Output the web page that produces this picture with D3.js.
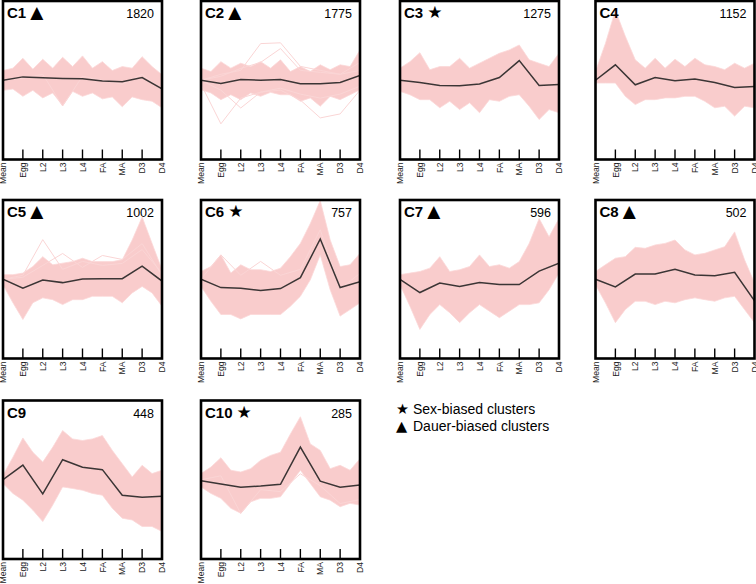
<!DOCTYPE html>
<html><head><meta charset="utf-8">
<script src="https://cdn.jsdelivr.net/npm/d3@7"></script>
<style>body{margin:0;background:#fff} svg{display:block}</style>
</head><body>
<svg id="chart" width="756" height="584"></svg>
<script>
// ---------------- data ----------------
const stages = ["Mean","Egg","L2","L3","L4","FA","MA","D3","D4"];
const clusterNames = ["C1","C2","C3","C4","C5","C6","C7","C8","C9","C10"];
const clusterSizes = [1820,1775,1275,1152,1002,757,596,502,448,285];
const clusterBias = ["dauer","dauer","sex","none","dauer","sex","dauer","dauer","none","sex"];

// mean expression profile of each cluster (dark line)
const meanProfiles = [
  [0, 0.17, 0.12, 0.09, 0.07, -0.04, -0.07, 0.14, -0.44],
  [0, -0.16, 0.04, 0.0, 0.04, -0.18, -0.18, -0.11, 0.24],
  [0, -0.11, -0.26, -0.28, -0.19, 0.14, 0.99, -0.26, -0.21],
  [0, 0.78, -0.23, 0.14, -0.03, 0.06, -0.11, -0.36, -0.31],
  [0, -0.45, -0.04, -0.17, 0.01, 0.02, 0.03, 0.66, -0.09],
  [0, -0.42, -0.46, -0.57, -0.47, 0.08, 2.03, -0.42, -0.12],
  [0, -0.67, -0.19, -0.36, -0.16, -0.27, -0.27, 0.41, 0.81],
  [0, -0.39, 0.26, 0.26, 0.50, 0.21, 0.18, 0.35, -1.09],
  [0, 0.74, -0.71, 1.01, 0.63, 0.51, -0.78, -0.88, -0.83],
  [-0.05, -0.22, -0.38, -0.32, -0.23, 1.65, -0.07, -0.38, -0.27]
];
// upper envelope of member genes at each stage
const upperAtStage = [
  [0.49, 1.11, 1.06, 1.16, 1.23, 0.94, 0.69, 1.19, 0.28],
  [0.61, 0.94, 0.86, 0.94, 1.03, 0.69, 0.78, 0.78, 1.53],
  [0.61, 1.39, 0.69, 1.11, 0.86, 1.36, 1.78, 0.86, 1.36],
  [0.44, 3.53, 1.03, 1.11, 1.06, 1.11, 0.69, 0.86, 0.86],
  [0.23, 0.31, 1.14, 0.81, 1.06, 0.89, 0.98, 3.14, 0.48],
  [0.39, 1.23, 0.73, 0.48, 0.56, 1.81, 3.97, 0.64, 1.31],
  [0.23, 0.39, 1.14, 0.48, 1.23, 0.73, 0.89, 3.06, 3.06],
  [0.39, 1.06, 1.61, 1.73, 1.98, 1.23, 1.48, 2.39, -0.19],
  [0.23, 2.11, 0.89, 2.48, 1.98, 2.23, 0.81, 0.73, 0.48],
  [0.31, 1.11, 0.39, 0.98, 1.39, 3.18, 1.48, 0.73, 1.06]
];
// upper envelope half-way between consecutive stages
const upperBetween = [
  [0.61, 0.56, 0.61, 0.69, 0.61, 0.49, 0.61, 0.69],
  [0.44, 0.61, 0.69, 0.61, 0.44, 0.44, 0.53, 0.69],
  [0.94, 0.53, 0.69, 0.61, 1.11, 1.53, 1.03, 0.69],
  [1.86, 2.22, 0.61, 0.61, 0.69, 0.78, 0.53, 0.61],
  [0.23, 0.64, 0.73, 0.89, 0.89, 0.89, 1.98, 1.81],
  [0.64, 0.31, 0.48, 0.39, 1.14, 2.81, 1.98, 0.73],
  [0.31, 0.56, 0.39, 0.64, 0.64, 0.56, 1.81, 2.14],
  [0.73, 1.14, 1.56, 1.81, 1.48, 1.31, 1.64, 0.98],
  [1.14, 1.39, 1.64, 2.06, 2.06, 1.48, 0.14, 0.31],
  [0.64, 0.48, 0.56, 1.23, 2.31, 1.81, 0.56, 0.48]
];
// lower envelope at each stage
const lowerAtStage = [
  [-0.51, -0.81, -0.89, -1.28, -0.81, -0.94, -1.34, -0.98, -1.39],
  [-0.48, -0.98, -0.98, -0.81, -0.73, -1.06, -1.31, -0.98, -0.48],
  [-0.56, -0.98, -1.39, -1.48, -1.64, -1.06, -0.73, -1.98, -1.64],
  [-0.14, -0.14, -1.23, -0.98, -0.89, -0.81, -1.39, -1.81, -1.39],
  [-0.28, -2.03, -0.94, -1.28, -1.03, -0.86, -1.19, -0.36, -1.36],
  [-0.36, -1.78, -2.0, -1.78, -1.78, -0.86, 1.23, -1.86, -1.19],
  [-0.28, -2.53, -1.28, -2.19, -1.28, -1.94, -1.28, -1.19, 0.31],
  [-0.28, -2.19, -1.11, -1.28, -1.19, -0.94, -1.11, -0.86, -2.19],
  [-0.19, -1.03, -2.11, -0.36, -0.53, -0.78, -1.94, -2.36, -2.61],
  [-0.36, -0.94, -1.69, -0.94, -0.86, 0.48, -0.86, -1.36, -1.28]
];
// lower envelope half-way between consecutive stages
const lowerBetween = [
  [-0.44, -0.51, -0.64, -0.56, -0.64, -0.84, -0.84, -1.06],
  [-0.64, -0.73, -0.64, -0.61, -0.73, -0.89, -0.81, -0.73],
  [-0.73, -0.98, -1.06, -1.14, -0.98, -0.81, -1.31, -1.48],
  [-0.14, -0.81, -0.98, -0.89, -0.81, -1.06, -1.31, -1.31],
  [-1.19, -1.19, -1.03, -1.03, -0.86, -0.86, -0.69, -0.69],
  [-1.11, -1.78, -1.78, -1.78, -1.36, -0.03, -0.53, -1.53],
  [-1.36, -1.78, -1.69, -1.69, -1.61, -1.61, -1.28, -0.53],
  [-1.19, -1.53, -1.11, -1.11, -1.03, -1.03, -0.94, -1.53],
  [-0.69, -1.53, -1.28, -0.44, -0.69, -1.44, -2.03, -2.36],
  [-0.69, -1.44, -1.11, -0.94, -0.19, -0.19, -1.03, -1.19]
];
// individual outlying member genes visible outside the main band
const outlierLines = [
  [[0, 0.1, 0.3, -1.3, 0.2, 0.0, -0.2, 0.3, -0.5]],
  [[0, 0.3, 0.5, 1.85, 1.89, 0.7, 0.5, 0.3, 0.5],
   [0, 0.2, 0.6, 0.9, 1.6, 0.5, 0.4, 0.3, 0.9],
   [-0.2, -2.2, -0.9, -0.6, -0.4, -0.7, -0.9, -0.7, -0.3],
   [0, -0.5, -1.4, -0.6, -0.5, -1.0, -1.9, -1.7, -0.5]],
  [],
  [],
  [[0, 0.2, 2.0, 0.5, 0.9, 0.7, 0.8, 1.5, 0.3],
   [0, 0.1, 0.7, 1.3, 0.6, 1.2, 1.0, 1.8, 0.2]],
  [[0, 1.23, 0.2, 0.9, 0.2, 0.5, 2.5, -0.5, 0.3]],
  [],
  [],
  [],
  [[0, 0.2, -1.7, -0.5, -0.6, 0.3, -0.3, -1.2, -1.0]]
];
const legendItems = [
  {symbol: "★", label: "Sex-biased clusters"},
  {symbol: "▲", label: "Dauer-biased clusters"}
];

// ---------------- drawing ----------------
const svg = d3.select("#chart");
const FONT = "'Liberation Sans', Arial, Helvetica, sans-serif";
const colX = [3, 201, 400, 595.5];
const rowY = [1, 200, 400.5];
const PW = 159, PH = 158.5;
const PINK = "#f9cccc";
const symbolFor = {sex: "★", dauer: "▲", none: ""};

clusterNames.forEach((name, i) => {
  const x0 = colX[i % 4], y0 = rowY[Math.floor(i / 4)];
  const g = svg.append("g").attr("transform", `translate(${x0},${y0})`);
  const x = d3.scalePoint().domain(stages).range([0, PW]);
  const y = d3.scaleLinear().domain([-4, 4]).range([PH, 0]);

  const clipId = "clip" + i;
  g.append("clipPath").attr("id", clipId)
    .append("rect").attr("x", 0).attr("y", 0).attr("width", PW).attr("height", PH);
  const plot = g.append("g").attr("clip-path", `url(#${clipId})`);

  // band points: stages + midpoints
  const pts = [];
  stages.forEach((s, k) => {
    pts.push({x: x(s), hi: upperAtStage[i][k], lo: lowerAtStage[i][k]});
    if (k < stages.length - 1) {
      pts.push({x: (x(s) + x(stages[k + 1])) / 2, hi: upperBetween[i][k], lo: lowerBetween[i][k]});
    }
  });
  plot.append("path").datum(pts)
    .attr("d", d3.area().x(d => d.x).y0(d => y(d.lo)).y1(d => y(d.hi)))
    .attr("fill", PINK).attr("stroke", "#fbd8d8").attr("stroke-width", 0.8);

  const line = d3.line().x((d, k) => x(stages[k])).y(d => y(d));
  outlierLines[i].forEach(ol => {
    plot.append("path").datum(ol).attr("d", line)
      .attr("fill", "none").attr("stroke", "#fad5d5").attr("stroke-width", 1);
  });

  plot.append("path").datum(meanProfiles[i]).attr("d", line)
    .attr("fill", "none").attr("stroke", "#3b3535").attr("stroke-width", 1.5);

  // ticks
  g.append("g").selectAll("line").data(stages.slice(1, -1)).join("line")
    .attr("x1", d => x(d)).attr("x2", d => x(d))
    .attr("y1", PH).attr("y2", PH - 10)
    .attr("stroke", "#000").attr("stroke-width", 1.4);

  // frame
  g.append("rect").attr("x", 0).attr("y", 0).attr("width", PW).attr("height", PH)
    .attr("fill", "none").attr("stroke", "#000").attr("stroke-width", 2.6);

  // stage labels
  g.append("g").selectAll("text").data(stages).join("text")
    .attr("transform", d => `translate(${x(d) + 3.2},${PH + 3}) rotate(-90)`)
    .attr("text-anchor", "end")
    .attr("font-family", FONT).attr("font-size", 8.6).attr("fill", "#222")
    .text(d => d);

  // title
  const t = g.append("text").attr("x", 4).attr("y", 17)
    .attr("font-family", FONT).attr("font-size", 15).attr("font-weight", "bold").attr("fill", "#000");
  t.append("tspan").text(name);
  if (symbolFor[clusterBias[i]]) {
    t.append("tspan").attr("dx", 4).attr("font-size", 17).attr("font-weight", "normal")
      .attr("font-family", "'DejaVu Sans', sans-serif")
      .text(symbolFor[clusterBias[i]]);
  }
  g.append("text").attr("x", PW - 8).attr("y", 17).attr("text-anchor", "end")
    .attr("font-family", FONT).attr("font-size", 12.5).attr("fill", "#000")
    .text(clusterSizes[i]);
});

// legend
const lg = svg.append("g").attr("transform", "translate(396,414)");
legendItems.forEach((it, k) => {
  const row = lg.append("g").attr("transform", `translate(0,${k * 17})`);
  row.append("text").attr("x", 0).attr("y", 0)
    .attr("font-family", "'DejaVu Sans', sans-serif").attr("font-size", 14.5).text(it.symbol);
  row.append("text").attr("x", 17).attr("y", 0)
    .attr("font-family", FONT).attr("font-size", 14).attr("fill", "#000").text(it.label);
});
</script>
</body></html>
